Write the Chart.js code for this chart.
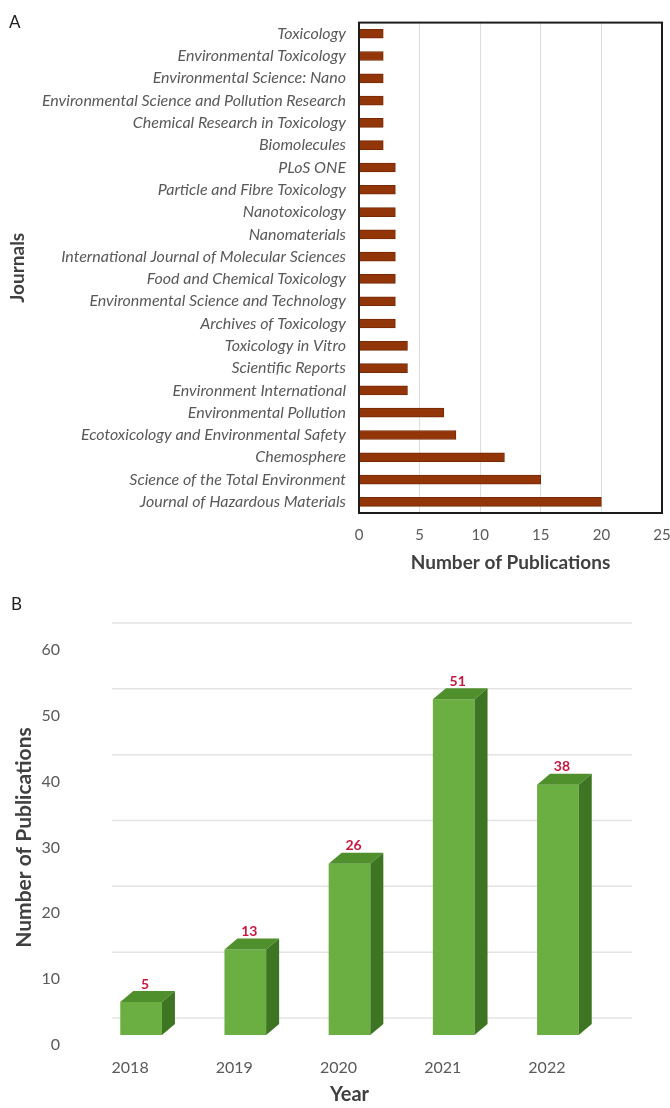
<!DOCTYPE html>
<html>
<head>
<meta charset="utf-8">
<script src="https://cdn.jsdelivr.net/npm/chart.js@4.4.1/dist/chart.umd.min.js"></script>
<style>
  html, body { margin: 0; padding: 0; background: #fff; }
  body { width: 670px; height: 1108px; position: relative; overflow: hidden; font-family: Lato, sans-serif; }
  .panel { position: absolute; left: 0; width: 670px; }
  #wrapA { top: 0; height: 585px; }
  #wrapB { top: 590px; height: 518px; }
  .tag { position: absolute; font: 17px Lato, sans-serif; color: #222; }
</style>
</head>
<body>
<div class="panel" id="wrapA"><canvas id="chartA" width="670" height="585"></canvas></div>
<div class="panel" id="wrapB"><canvas id="chartB" width="670" height="518"></canvas></div>
<div class="tag" style="left:9px; top:11px;">A</div>
<div class="tag" style="left:11px; top:593px;">B</div>
<script>
// ── Panel A: publications per journal ─────────────────
const journals = [
  'Toxicology',
  'Environmental Toxicology',
  'Environmental Science: Nano',
  'Environmental Science and Pollution Research',
  'Chemical Research in Toxicology',
  'Biomolecules',
  'PLoS ONE',
  'Particle and Fibre Toxicology',
  'Nanotoxicology',
  'Nanomaterials',
  'International Journal of Molecular Sciences',
  'Food and Chemical Toxicology',
  'Environmental Science and Technology',
  'Archives of Toxicology',
  'Toxicology in Vitro',
  'Scientific Reports',
  'Environment International',
  'Environmental Pollution',
  'Ecotoxicology and Environmental Safety',
  'Chemosphere',
  'Science of the Total Environment',
  'Journal of Hazardous Materials',
];
const journalCounts = [2, 2, 2, 2, 2, 2, 3, 3, 3, 3, 3, 3, 3, 3, 4, 4, 4, 7, 8, 12, 15, 20];
const journalTicks = [0, 5, 10, 15, 20, 25];

// ── Panel B: publications per year ────────────────────
const years = ['2018', '2019', '2020', '2021', '2022'];
const yearCounts = [5, 13, 26, 51, 38];
const yearTicks = [0, 10, 20, 30, 40, 50, 60];

const TEXT = '#595959';
const TITLE = '#404040';
Chart.defaults.font.family = 'Lato, sans-serif';
Chart.defaults.color = TEXT;
Chart.defaults.animation = false;

// black frame round the plot area of panel A
const framePlugin = {
  id: 'frame',
  afterDraw(chart) {
    const { ctx, chartArea: a } = chart;
    ctx.save();
    ctx.strokeStyle = '#1c1c1c';
    ctx.lineWidth = 2;
    ctx.strokeRect(a.left, a.top, a.right - a.left, a.bottom - a.top);
    ctx.restore();
  },
};

new Chart(document.getElementById('chartA'), {
  type: 'bar',
  data: {
    labels: journals,
    datasets: [{
      data: journalCounts,
      backgroundColor: '#923509',
      borderColor: '#752905',
      borderWidth: 1,
      barThickness: 9,
    }],
  },
  options: {
    indexAxis: 'y',
    responsive: false,
    layout: { padding: { top: 17, right: 8, left: 0, bottom: 0 } },
    plugins: { legend: { display: false }, tooltip: { enabled: false } },
    scales: {
      x: {
        min: 0, max: 25,
        afterBuildTicks: s => { s.ticks = journalTicks.map(v => ({ value: v })); },
        afterFit: s => { s.height = 72; s.paddingRight = 0; },
        grid: { color: '#DDDDDD', drawTicks: false },
        border: { display: false },
        ticks: { color: TEXT, font: { size: 15 }, padding: 13 },
        title: {
          display: true, text: 'Number of Publications', color: TITLE,
          font: { size: 19, weight: 'bold' }, padding: { top: 0, bottom: 11 },
        },
      },
      y: {
        afterFit: s => { s.width = 359; },
        grid: { display: false, drawTicks: false },
        border: { display: false },
        ticks: { color: TEXT, font: { size: 16, style: 'italic' }, padding: 13, autoSkip: false },
        title: {
          display: true, text: 'Journals', color: TITLE,
          font: { size: 19, weight: 'bold' }, padding: { top: 6 },
        },
      },
    },
  },
  plugins: [framePlugin],
});

// ── 3D look for panel B ───────────────────────────────
const DEPTH_X = 13, DEPTH_Y = 11;      // bar depth
const WALL_X = 20, WALL_Y = 17;        // back wall offset for gridlines

const wallGridPlugin = {
  id: 'wallGrid',
  beforeDatasetsDraw(chart) {
    const { ctx, chartArea: a, scales: { y } } = chart;
    ctx.save();
    ctx.strokeStyle = '#E3E3E3';
    ctx.lineWidth = 1.5;
    y.ticks.forEach(t => {
      const py = y.getPixelForValue(t.value) - WALL_Y;
      ctx.beginPath();
      ctx.moveTo(a.left + WALL_X + 3, py);
      ctx.lineTo(a.right + WALL_X + 2, py);
      ctx.stroke();
    });
    ctx.restore();
  },
};

const bar3dPlugin = {
  id: 'bar3d',
  afterDatasetsDraw(chart) {
    const { ctx } = chart;
    const meta = chart.getDatasetMeta(0);
    ctx.save();
    meta.data.forEach((bar, i) => {
      const { x, y, base, width } = bar.getProps(['x', 'y', 'base', 'width'], true);
      const l = x - width / 2, r = x + width / 2;
      // top face
      ctx.fillStyle = '#4F8F2C';
      ctx.beginPath();
      ctx.moveTo(l, y);
      ctx.lineTo(l + DEPTH_X, y - DEPTH_Y);
      ctx.lineTo(r + DEPTH_X, y - DEPTH_Y);
      ctx.lineTo(r, y);
      ctx.closePath();
      ctx.fill();
      // side face
      ctx.fillStyle = '#3E7523';
      ctx.beginPath();
      ctx.moveTo(r, y);
      ctx.lineTo(r + DEPTH_X, y - DEPTH_Y);
      ctx.lineTo(r + DEPTH_X, base - DEPTH_Y);
      ctx.lineTo(r, base);
      ctx.closePath();
      ctx.fill();
      // value label
      ctx.fillStyle = '#C8163F';
      ctx.font = 'bold 14px Lato, sans-serif';
      ctx.textAlign = 'center';
      ctx.textBaseline = 'middle';
      ctx.fillText(String(yearCounts[i]), x + 4, y - 18);
    });
    ctx.restore();
  },
};

new Chart(document.getElementById('chartB'), {
  type: 'bar',
  data: {
    labels: years,
    datasets: [{
      data: yearCounts,
      backgroundColor: c => {
        const bar = c.element;
        if (!c.chart.chartArea || !bar || bar.width == null) return '#6BAE42';
        const g = c.chart.ctx.createLinearGradient(bar.x - bar.width / 2, 0, bar.x + bar.width / 2, 0);
        g.addColorStop(0, '#5FA336');
        g.addColorStop(0.5, '#73B64A');
        g.addColorStop(1, '#62A539');
        return g;
      },
      borderWidth: 0,
      barPercentage: 0.4,
      categoryPercentage: 1,
    }],
  },
  options: {
    responsive: false,
    layout: { padding: { top: 50, right: 60, left: 0, bottom: 0 } },
    plugins: { legend: { display: false }, tooltip: { enabled: false } },
    scales: {
      x: {
        afterFit: s => { s.height = 73; },
        grid: { display: false, drawTicks: false },
        border: { display: false },
        ticks: { color: TEXT, font: { size: 16 }, padding: 23, labelOffset: -11 },
        title: {
          display: true, text: 'Year', color: TITLE,
          font: { size: 20, weight: 'bold' }, padding: { top: 0, bottom: 1 },
        },
      },
      y: {
        min: 0, max: 60,
        afterBuildTicks: s => { s.ticks = yearTicks.map(v => ({ value: v })); },
        afterFit: s => { s.width = 89; },
        grid: { display: false, drawTicks: false },
        border: { display: false },
        ticks: { color: TEXT, font: { size: 16 }, padding: 29, labelOffset: 10 },
        title: {
          display: true, text: 'Number of Publications', color: TITLE,
          font: { size: 21, weight: 'bold' }, padding: { top: 12 },
        },
      },
    },
  },
  plugins: [wallGridPlugin, bar3dPlugin],
});
</script>
</body>
</html>
